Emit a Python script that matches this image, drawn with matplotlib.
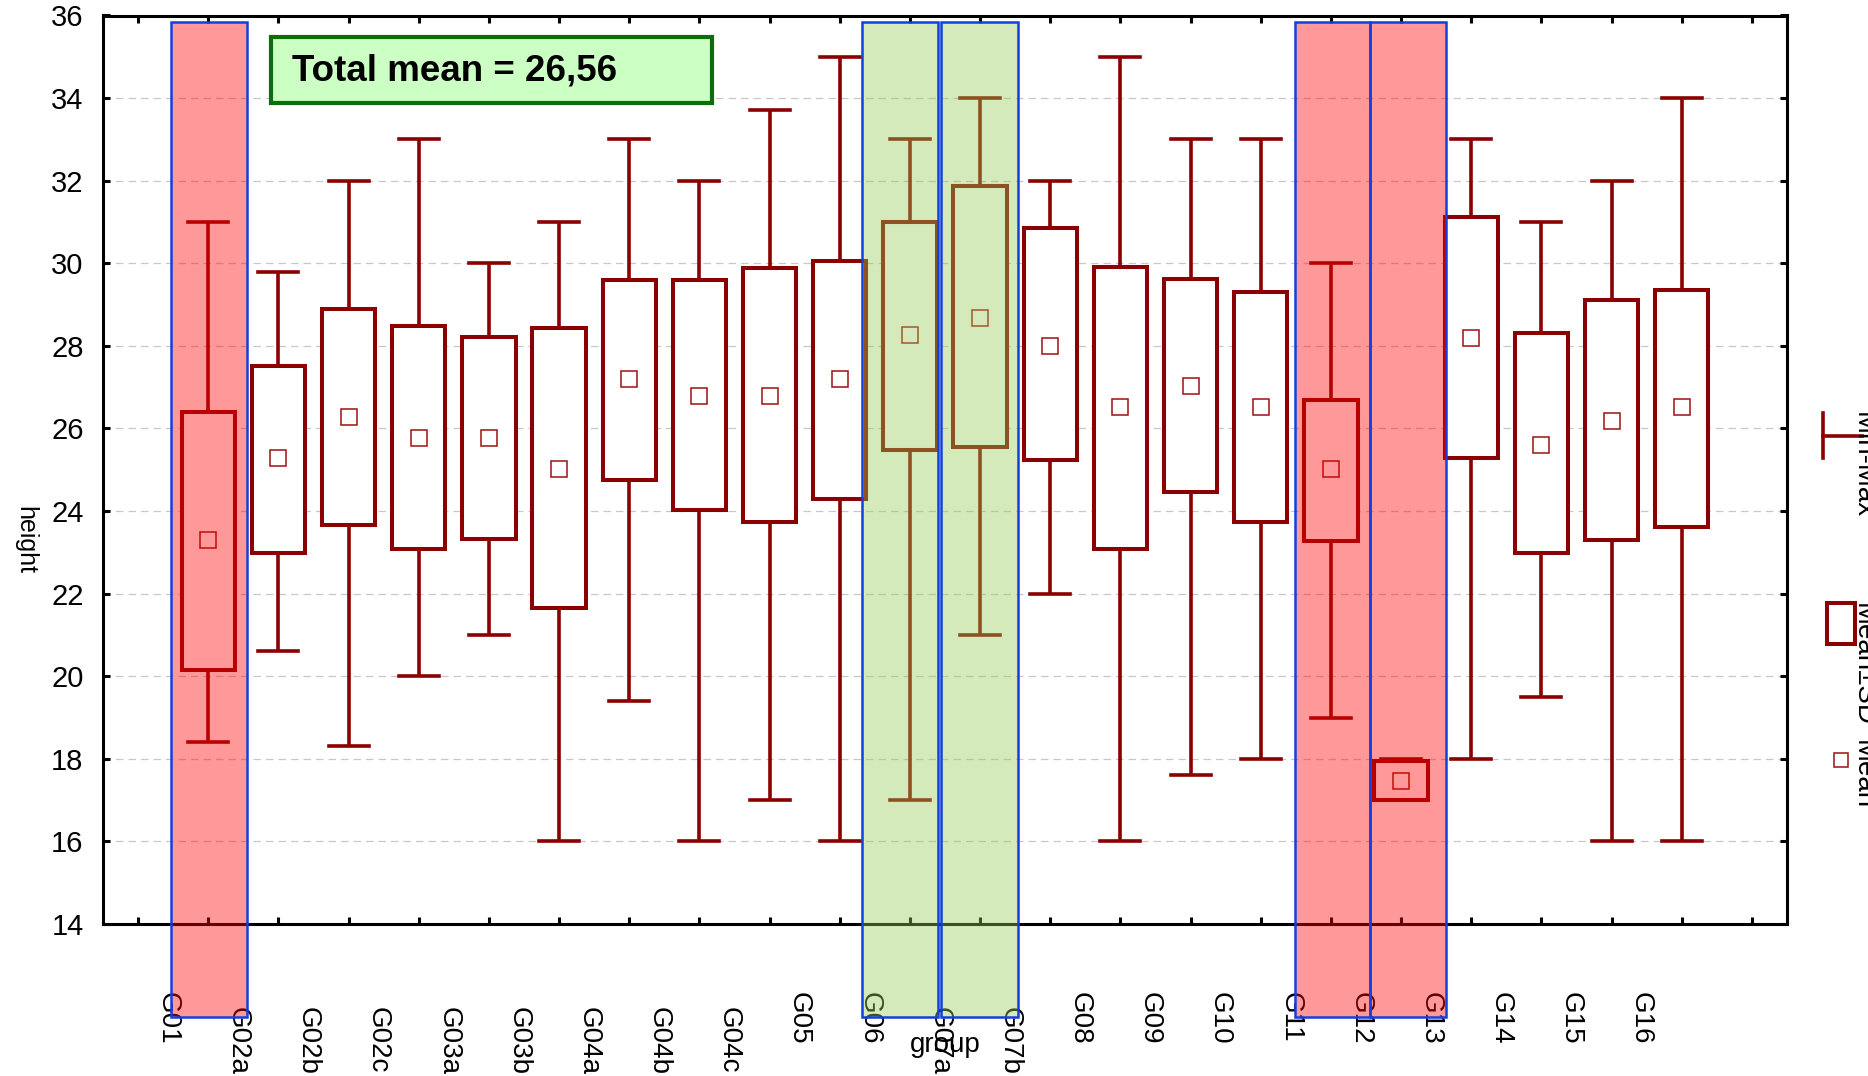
import matplotlib
matplotlib.use("Agg")
import matplotlib.pyplot as plt
import matplotlib.transforms as mtransforms
from matplotlib.patches import Rectangle
import numpy as np

plt.rcParams['font.family'] = ['Liberation Sans', 'DejaVu Sans']

# Data
groups = ['G01', 'G02a', 'G02b', 'G02c', 'G03a', 'G03b', 'G04a', 'G04b', 'G04c', 'G05', 'G06',
          'G07a', 'G07b', 'G08', 'G09', 'G10', 'G11', 'G12', 'G13', 'G14', 'G15', 'G16']
mins = [18.4, 20.6, 18.3, 20.0, 21.0, 16.0, 19.4, 16.0, 17.0, 16.0, 17.0,
        21.0, 22.0, 16.0, 17.6, 18.0, 19.0, 17.0, 18.0, 19.5, 16.0, 16.0]
sd_low = [20.15, 22.98, 23.67, 23.07, 23.33, 21.65, 24.74, 24.02, 23.73, 24.28, 25.49,
          25.55, 25.23, 23.07, 24.45, 23.73, 23.27, 17.0, 25.29, 22.98, 23.3, 23.62]
means = [23.3, 25.29, 26.27, 25.78, 25.78, 25.03, 27.2, 26.79, 26.79, 27.2, 28.26,
         28.67, 28.0, 26.53, 27.02, 26.53, 25.03, 17.47, 28.18, 25.61, 26.18, 26.53]
sd_high = [26.4, 27.51, 28.9, 28.49, 28.21, 28.44, 29.59, 29.59, 29.88, 30.05, 31.0,
           31.87, 30.86, 29.91, 29.62, 29.3, 26.7, 17.95, 31.12, 28.32, 29.1, 29.36]
maxs = [31.0, 29.8, 32.0, 33.0, 30.0, 31.0, 33.0, 32.0, 33.7, 35.0, 33.0,
        34.0, 32.0, 35.0, 33.0, 33.0, 30.0, 18.0, 33.0, 31.0, 32.0, 34.0]
total_mean = "26,56"

# highlighted groups (red = low, green = high)
highlight_groups = ['G01', 'G06', 'G07a', 'G11', 'G12']
highlight_colors = ['red', 'green', 'green', 'red', 'red']

# layout
highlight_spans = [(0.47, 1.55), (10.32, 11.40), (11.44, 12.54), (16.49, 17.56), (17.56, 18.64)]
fills = {'red': (1.0, 0.0, 0.0, 0.4), 'green': (0.58, 0.80, 0.33, 0.4)}
dark = '#8b0000'
box_w = 0.76
cap_w = 0.57

fig = plt.figure(figsize=(18.68, 10.76), dpi=100)
ax = fig.add_axes([103 / 1868, 1 - 924 / 1076, 1684 / 1868, 908.5 / 1076])

pos = np.arange(1, len(groups) + 1)

for x, lo, q1, m, q3, hi in zip(pos, mins, sd_low, means, sd_high, maxs):
    ax.plot([x, x], [lo, q1], color=dark, lw=2.6, zorder=3, solid_capstyle='butt')
    ax.plot([x, x], [q3, hi], color=dark, lw=2.6, zorder=3, solid_capstyle='butt')
    ax.plot([x - cap_w / 2, x + cap_w / 2], [lo, lo], color=dark, lw=2.6, zorder=3)
    ax.plot([x - cap_w / 2, x + cap_w / 2], [hi, hi], color=dark, lw=2.6, zorder=3)
    ax.add_patch(Rectangle((x - box_w / 2, q1), box_w, q3 - q1, facecolor='white',
                           edgecolor=dark, lw=2.9, zorder=4))
    ax.plot(x, m, 's', ms=11.5, mfc='none', mec='#a01010', mew=1.1, zorder=5)

# highlight bands over the groups
for g, c, (l, r) in zip(highlight_groups, highlight_colors, highlight_spans):
    ax.add_patch(Rectangle((l, 11.75), r - l, 35.85 - 11.75, facecolor=fills[c],
                           edgecolor='#1240dc', lw=1.8, zorder=6, clip_on=False))

ax.set_xlim(-0.5, 23.5)
ax.set_ylim(14, 36)
ax.set_yticks(range(14, 37, 2))
ax.set_xticks(range(0, 24))
ax.tick_params(direction='in', length=5, width=2.2, top=True, right=True,
               labelsize=21, pad=14)
ax.tick_params(axis='x', labelbottom=False)
ax.yaxis.grid(True, color='#c8c8c8', ls=(0, (6, 4)), lw=0.9)
ax.set_axisbelow(True)
for s in ax.spines.values():
    s.set_linewidth(2.2)

# group labels, shifted left of the boxes as in the original
trans = mtransforms.blended_transform_factory(ax.transData, ax.transAxes)
for x, g in zip(pos, groups):
    ytop = -0.0749 if len(g) == 3 else -0.0914
    ax.text(x - 0.58, ytop, g, transform=trans, rotation=270, ha='center', va='top',
            fontsize=20, zorder=3)

ax.set_xlabel('group', fontsize=20, va='baseline')
ax.xaxis.set_label_coords(0.5, (924 - 1052) / 908.5)
ax.set_ylabel('height', fontsize=18, rotation=270, va='center', ha='center')
ax.yaxis.set_label_coords((25 - 103) / 1684, (924 - 540) / 908.5)

# overlay in pixel coords for the annotation box and the cut-off legend
ov = fig.add_axes([0, 0, 1, 1])
ov.set_xlim(0, 1868)
ov.set_ylim(1076, 0)
ov.axis('off')

ov.add_patch(Rectangle((271, 37), 441, 66, facecolor='#ccffc4', edgecolor='#0a6e0a', lw=3))
ov.text(292, 71, "Total mean = " + total_mean, fontsize=26.5, fontweight='bold',
        ha='left', va='center')

ov.plot([1823, 1823], [413, 458], color=dark, lw=2.6)
ov.plot([1823, 1862], [436, 436], color=dark, lw=2.6)
ov.add_patch(Rectangle((1827, 603), 28, 41, facecolor='none', edgecolor=dark, lw=2.9))
ov.plot(1841, 760, 's', ms=10, mfc='none', mec='#a01010', mew=1.1)
ov.text(1850, 412, 'Min-Max', rotation=270, fontsize=20, ha='left', va='top')
ov.text(1850, 603, 'Mean±SD', rotation=270, fontsize=20, ha='left', va='top')
ov.text(1850, 740, 'Mean', rotation=270, fontsize=20, ha='left', va='top')

fig.savefig('out.png', dpi=100)
